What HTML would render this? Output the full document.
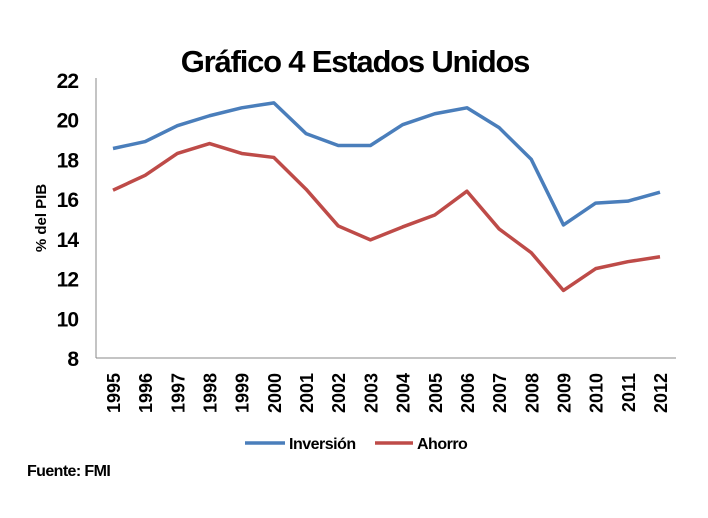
<!DOCTYPE html>
<html><head><meta charset="utf-8"><style>
body{margin:0;background:#fff;width:708px;height:513px;overflow:hidden;font-family:"Liberation Sans",sans-serif}
svg text{font-family:"Liberation Sans",sans-serif;font-weight:bold}
</style></head><body>
<svg id="c" width="708" height="513">
<text x="355" y="72" text-anchor="middle" font-size="31" letter-spacing="-1.2" fill="#000">Gráfico 4 Estados Unidos</text>
<text transform="translate(46,218) rotate(-90)" text-anchor="middle" font-size="15" fill="#000">% del PIB</text>
<line x1="96" y1="78" x2="96" y2="358" stroke="#888"/>
<line x1="96" y1="358" x2="676" y2="358" stroke="#888"/>
<g id="yt"></g><g id="xt"></g><g id="series"></g>
<line x1="245" y1="443" x2="285" y2="443" stroke="#4a7ebb" stroke-width="3.5"/>
<text x="289" y="449" font-size="16" letter-spacing="-0.5">Inversión</text>
<line x1="375" y1="443" x2="413" y2="443" stroke="#be4b48" stroke-width="3.5"/>
<text x="417" y="449" font-size="16" letter-spacing="-0.5">Ahorro</text>
<text x="27" y="476" font-size="16" letter-spacing="-0.6">Fuente: FMI</text>
</svg>
<script>
const years=[1995,1996,1997,1998,1999,2000,2001,2002,2003,2004,2005,2006,2007,2008,2009,2010,2011,2012];
const inversion=[18.55,18.9,19.7,20.2,20.6,20.85,19.3,18.7,18.7,19.75,20.3,20.6,19.6,18.0,14.7,15.8,15.9,16.35];
const ahorro=[16.45,17.2,18.3,18.8,18.3,18.1,16.5,14.65,13.95,14.6,15.2,16.4,14.5,13.3,11.4,12.5,12.85,13.1];
const yTicks=[8,10,12,14,16,18,20,22];
const NS="http://www.w3.org/2000/svg";
const X=i=>113+i*(660-113)/17;
const Y=v=>358-(v-8)*(358-80)/14;
function mk(t,a,p){const e=document.createElementNS(NS,t);for(const k in a)e.setAttribute(k,a[k]);p.appendChild(e);return e;}
const yt=document.getElementById('yt');
yTicks.forEach(v=>{const t=mk('text',{x:78,y:Y(v)+8,'text-anchor':'end','font-size':21,'letter-spacing':-1},yt);t.textContent=v;

});
const xt=document.getElementById('xt');
years.forEach((yr,i)=>{const t=mk('text',{transform:`translate(${X(i)+7},373) rotate(-90)`,'text-anchor':'end','font-size':18},xt);t.textContent=yr;

});
const s=document.getElementById('series');
[[inversion,'#4a7ebb','inversion-line'],[ahorro,'#be4b48','ahorro-line']].forEach(([d,c,n])=>{
const p=mk('polyline',{points:d.map((v,i)=>X(i)+','+Y(v)).join(' '),fill:'none',stroke:c,'stroke-width':3.5,'stroke-linejoin':'round'},s);

});
</script>
</body></html>
